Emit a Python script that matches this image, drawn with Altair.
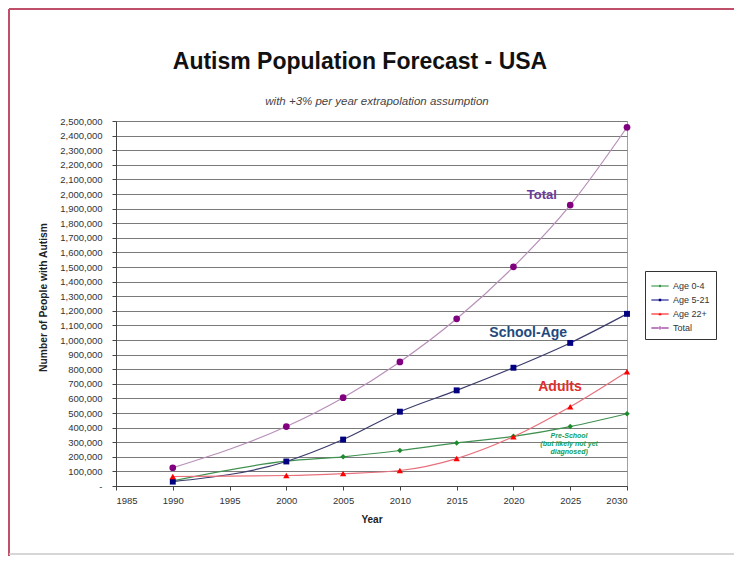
import altair as alt
import pandas as pd

# ---- data ----
years = [1990, 2000, 2005, 2010, 2015, 2020, 2025, 2030]
age_0_4 = [35000, 170000, 200000, 243000, 295000, 340000, 407000, 495000]
age_5_21 = [30000, 168000, 318000, 509000, 655000, 810000, 980000, 1179000]
age_22_plus = [65000, 72000, 85000, 106000, 188000, 338000, 543000, 783000]
total = [125000, 407000, 605000, 850000, 1145000, 1501000, 1924000, 2457000]

series = ["Age 0-4", "Age 5-21", "Age 22+", "Total"]
y_ticks = list(range(0, 2500001, 100000))
x_ticks = list(range(1985, 2031, 5))

# annotations (text, year, value)
ann_text = ["Total", "School-Age", "Adults"]
ann_year = [2022.5, 2021.3, 2024.1]
ann_value = [1990000, 1050000, 680000]
pre_lines = ["Pre-School", "(but likely not yet", "diagnosed)"]
pre_year = [2024.9, 2024.9, 2024.9]
pre_value = [340000, 286000, 232000]

# ---- styles ----
marker_colors = ["#1e8a2e", "#000080", "#ff0000", "#800080"]
line_colors = ["#3f9150", "#3c3c6c", "#e8707c", "#b890b8"]
marker_shapes = ["diamond", "square", "triangle-up", "circle"]
marker_sizes = [30, 45, 50, 90]
ann_colors = ["#6b3a9b", "#1f497d", "#e0302c"]
ann_sizes = [13, 14, 14]
legend_paths = [
    "M-1,-0.045H1V0.045H-1Z M0,-0.18L0.18,0L0,0.18L-0.18,0Z",
    "M-1,-0.045H1V0.045H-1Z M-0.14,-0.14H0.14V0.14H-0.14Z",
    "M-1,-0.045H1V0.045H-1Z M0,-0.18L0.18,0.13H-0.18Z",
    "M-1,-0.045H1V0.045H-1Z M-0.16,0A0.16,0.16,0,1,0,0.16,0A0.16,0.16,0,1,0,-0.16,0Z",
]

FONT = "Liberation Sans"

rows = []
for name, vals in zip(series, [age_0_4, age_5_21, age_22_plus, total]):
    for yr, v in zip(years, vals):
        rows.append({"Year": yr, "Series": name, "People": v})
df = pd.DataFrame(rows)

x_enc = alt.X(
    "Year:Q",
    scale=alt.Scale(domain=[1985, 2030], nice=False, zero=False),
    axis=alt.Axis(
        values=x_ticks, format="d", grid=False, title="Year",
        labelFontSize=9.5, labelFont=FONT, labelColor="#333", labelOverlap=False,
        tickSize=4, tickColor="#444", domainColor="#444", labelPadding=5,
        titleFont=FONT, titleFontSize=10, titleFontWeight="bold", titleColor="#222",
        titleY=33, titleBaseline="middle",
    ),
)
y_enc = alt.Y(
    "People:Q",
    scale=alt.Scale(domain=[0, 2500000], nice=False),
    axis=alt.Axis(
        values=y_ticks, labelOverlap=False,
        labelExpr="datum.value == 0 ? '-' : format(datum.value, ',')",
        grid=True, gridColor="#7a7a7a", gridWidth=1,
        labelFontSize=9.5, labelFont=FONT, labelColor="#333",
        tickSize=4, tickColor="#444", domainColor="#444", labelPadding=10,
        title="Number of People with Autism",
        titleFont=FONT, titleFontSize=10.3, titleFontWeight="bold", titleColor="#222",
        titleX=-73, titleY=176, titleAngle=-90, titleAlign="center", titleBaseline="middle",
    ),
)

base = alt.Chart(df)

lines = base.mark_line(interpolate="monotone", strokeWidth=1.2).encode(
    x=x_enc, y=y_enc,
    color=alt.Color("Series:N", scale=alt.Scale(domain=series, range=line_colors), legend=None),
)

points = base.mark_point(filled=True, opacity=1).encode(
    x=x_enc, y=y_enc,
    color=alt.Color("Series:N", scale=alt.Scale(domain=series, range=marker_colors), legend=None),
    shape=alt.Shape("Series:N", scale=alt.Scale(domain=series, range=marker_shapes), legend=None),
    size=alt.Size("Series:N", scale=alt.Scale(domain=series, range=marker_sizes), legend=None),
)

legend_props = dict(
    title=None, orient="none", legendX=529, legendY=150,
    strokeColor="#333", fillColor="white", padding=6,
    symbolSize=300, labelFontSize=9, labelFont=FONT, labelColor="#333",
    rowPadding=0, labelOffset=4, symbolStrokeWidth=0,
)
legend_layer = base.mark_point(filled=True, opacity=1).encode(
    x=x_enc, y=y_enc,
    color=alt.Color("Series:N", scale=alt.Scale(domain=series, range=marker_colors),
                    legend=alt.Legend(**legend_props)),
    shape=alt.Shape("Series:N", scale=alt.Scale(domain=series, range=legend_paths),
                    legend=alt.Legend(**legend_props)),
).transform_filter("datum.Year > 3000")

layers = [lines, points, legend_layer]

for t, yr, v, c, s in zip(ann_text, ann_year, ann_value, ann_colors, ann_sizes):
    layers.append(
        alt.Chart(pd.DataFrame({"t": [t], "Year": [yr], "People": [v]}))
        .mark_text(font=FONT, fontSize=s, fontWeight="bold", color=c)
        .encode(x=x_enc, y=y_enc, text="t:N")
    )

layers.append(
    alt.Chart(pd.DataFrame({"t": pre_lines, "Year": pre_year, "People": pre_value}))
    .mark_text(font=FONT, fontSize=7, fontWeight="bold", fontStyle="italic", color="#10a060")
    .encode(x=x_enc, y=y_enc, text="t:N")
)

one = alt.Data(values=[{"k": 1}])
layers.append(
    alt.Chart(one).mark_text(font=FONT, fontSize=23, fontWeight="bold", color="#111",
                             baseline="alphabetic", align="center")
    .encode(x=alt.value(244), y=alt.value(-52.5), text=alt.value("Autism Population Forecast - USA"))
)
layers.append(
    alt.Chart(one).mark_text(font=FONT, fontSize=11.5, fontStyle="italic", color="#444",
                             baseline="middle", align="center")
    .encode(x=alt.value(261), y=alt.value(-19), text=alt.value("with +3% per year extrapolation assumption"))
)
# outer frame
layers.append(
    alt.Chart(one).mark_rule(color="#c0506a", strokeWidth=2)
    .encode(x=alt.value(-107), y=alt.value(-112), y2=alt.value(440))
)
layers.append(
    alt.Chart(one).mark_rule(color="#c0506a", strokeWidth=2)
    .encode(x=alt.value(-107), x2=alt.value(620), y=alt.value(-112))
)
layers.append(
    alt.Chart(one).mark_rule(color="#c8c8c8", strokeWidth=1.5)
    .encode(x=alt.value(-107), x2=alt.value(620), y=alt.value(433))
)

chart = (
    alt.layer(*layers)
    .resolve_scale(color="independent", shape="independent", size="independent")
    .properties(
        width=511, height=365,
        autosize=alt.AutoSizeParams(type="none"),
        padding={"left": 108, "top": 113, "right": 107, "bottom": 70},
        background="white",
    )
    .configure_view(stroke="#a0a0a0", strokeWidth=1)
)

chart.save("out.html", embed_options={"renderer": "svg", "actions": False})
